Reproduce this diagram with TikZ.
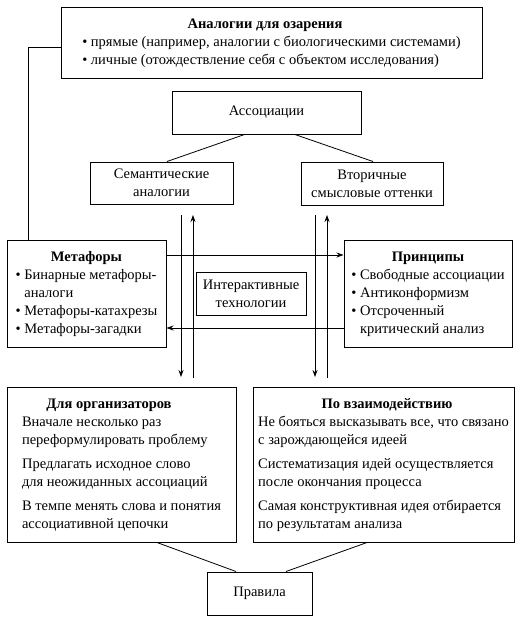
\documentclass[tikz,border=0pt]{standalone}
\usepackage{fontspec}
\setmainfont{Liberation Serif}
\usetikzlibrary{arrows.meta,calc}
\newcommand\diafs{\fontsize{14.5}{18}\selectfont}
\tikzset{
  box/.style={draw, line width=1pt, inner sep=0pt, align=center, font=\diafs},
  arr/.style={line width=0.8pt, -{Stealth[length=7pt,width=5pt]}},
  ln/.style={line width=0.8pt},
}
\begin{document}
\begin{tikzpicture}[x=1pt,y=-1pt]
\useasboundingbox (0,0) rectangle (520,619);
\node[box, minimum width=421pt, minimum height=71pt] (top) at (271.5,42.5)
  {\begin{tabular}{@{}l@{ }l@{}}\multicolumn{2}{c}{\hspace{-13pt}\textbf{Аналогии для озарения}}\\
   • & прямые (например, аналогии с биологическими системами)\\
   • & личные (отождествление себя с объектом исследования)\end{tabular}};
\node[box, minimum width=189pt, minimum height=43pt] (assoc) at (266.5,112.5) {Ассоциации};
\node[box, minimum width=143pt, minimum height=42pt] (sem) at (161.5,183) {Семантические\\аналогии};
\node[box, minimum width=142pt, minimum height=43pt] (vtor) at (372,183.5) {Вторичные\\смысловые оттенки};
\node[box, minimum width=159pt, minimum height=107pt] (metaf) at (86.5,293.5)
  {\begin{tabular}{@{}l@{ }l@{}}\multicolumn{2}{c}{\textbf{Метафоры}}\\
   • & Бинарные метафоры-\\
     & аналоги\\
   • & Метафоры-катахрезы\\
   • & Метафоры-загадки\end{tabular}};
\node[box, minimum width=168pt, minimum height=107pt] (princ) at (428,293.5)
  {\begin{tabular}{@{}l@{ }l@{}}\multicolumn{2}{c}{\textbf{Принципы}}\\
   • & Свободные ассоциации\\
   • & Антиконформизм\\
   • & Отсроченный\\
     & критический анализ\end{tabular}};
\node[box, minimum width=110pt, minimum height=43pt] (inter) at (251,293.5) {Интерактивные\\технологии};
\node[box, minimum width=229pt, minimum height=155pt] (org) at (121.5,464.5)
  {\begin{tabular}{@{}l@{}}\multicolumn{1}{c}{\hspace{-25pt}\textbf{Для организаторов}}\\
   Вначале несколько раз\\
   переформулировать проблему\\[6pt]
   Предлагать исходное слово\\
   для неожиданных ассоциаций\\[6pt]
   В темпе менять слова и понятия\\
   ассоциативной цепочки\end{tabular}};
\node[box, minimum width=261pt, minimum height=155pt] (vz) at (383.5,464.5)
  {\begin{tabular}{@{}l@{}}\multicolumn{1}{c}{\hspace{7pt}\textbf{По взаимодействию}}\\
   Не бояться высказывать все, что связано\\
   с зарождающейся идеей\\[6pt]
   Систематизация идей осуществляется\\
   после окончания процесса\\[6pt]
   Самая конструктивная идея отбирается\\
   по результатам анализа\end{tabular}};
\node[box, minimum width=105pt, minimum height=43pt] (prav) at (259.5,593.5) {Правила};
% connectors
\coordinate (k1) at (0,47);
\coordinate (k2) at (28,0);
\draw[ln] (top.west |- k1) -| (metaf.north -| k2);
\draw[ln] ($(assoc.south)+(-22,0)$) -- ($(sem.north)+(5.5,0)$);
\draw[ln] ($(assoc.south)+(28.5,0)$) -- ($(vtor.north)+(1,0)$);
\draw[ln] ($(org.south)+(35.5,0)$) -- ($(prav.north)+(-23.5,0)$);
\draw[ln] ($(vz.south)+(-16.5,0)$) -- ($(prav.north)+(26.5,0)$);
\coordinate (a1t) at (181,215);
\coordinate (a1b) at (181,377);
\coordinate (a2b) at (193,378);
\coordinate (a2t) at (193,215);
\coordinate (b1t) at (315,215);
\coordinate (b1b) at (315,377);
\coordinate (b2b) at (327,378);
\coordinate (b2t) at (327,215);
\draw[arr] (a1t) -- (a1b);
\draw[arr] (a2b) -- (a2t);
\draw[arr] (b1t) -- (b1b);
\draw[arr] (b2b) -- (b2t);
\coordinate (h1) at (0,255);
\coordinate (h2) at (0,328);
\draw[arr] (metaf.east |- h1) -- (princ.west |- h1);
\draw[arr] (princ.west |- h2) -- (metaf.east |- h2);
\end{tikzpicture}
\end{document}
